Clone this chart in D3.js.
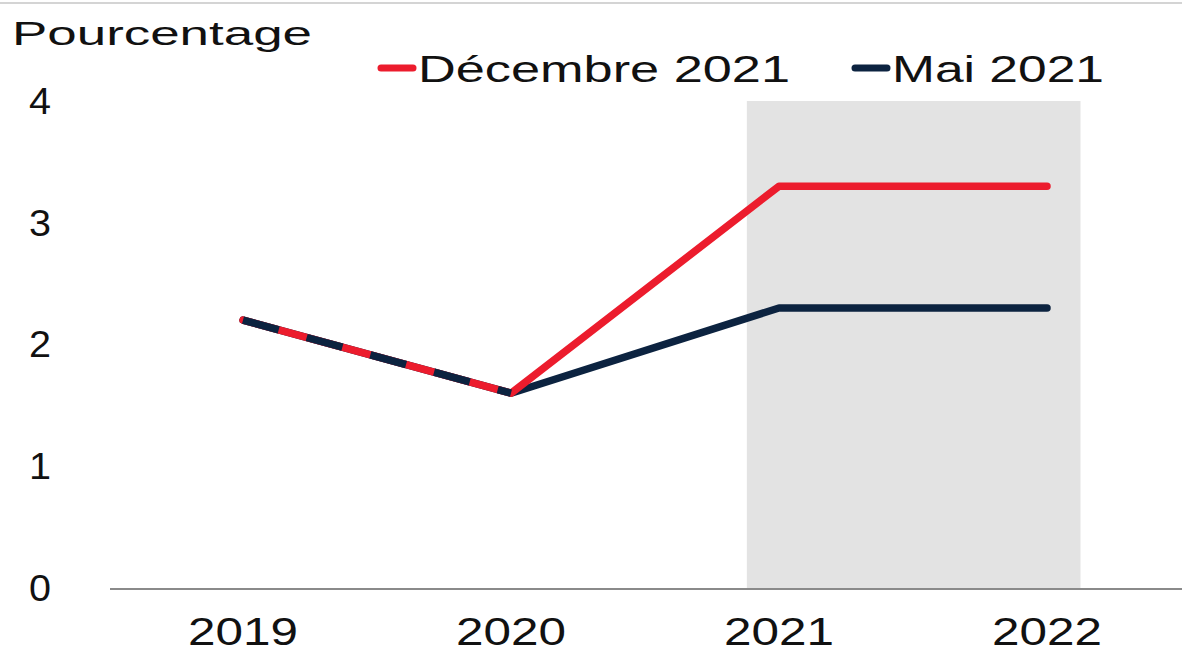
<!DOCTYPE html>
<html>
<head>
<meta charset="utf-8">
<script src="https://cdn.jsdelivr.net/npm/d3@7"></script>
<style>
  body { margin: 0; background: #fff; }
  text { font-family: "Liberation Sans", Arial, sans-serif; fill: #111; }
</style>
</head>
<body>
<div id="chart"></div>
<script>
// data
const years = ["2019", "2020", "2021", "2022"];
const dec2021 = [2.2, 1.6, 3.3, 3.3];
const mai2021 = [2.2, 1.6, 2.3, 2.3];
const yTicks = [0, 1, 2, 3, 4];
const shaded = ["2021", "2022"];

const W = 1182, H = 653;
const red = "#ec1c2d", navy = "#0c2340";

const svg = d3.select("#chart").append("svg")
    .attr("width", W)
    .attr("height", H);

const xScale = d3.scalePoint().domain(years).range([243, 1047]);
const step = xScale.step();
const yScale = d3.scaleLinear().domain([0, 4]).range([588, 101]);

// top rule
svg.append("line")
    .attr("x1", 0).attr("x2", W).attr("y1", 3).attr("y2", 3)
    .attr("stroke", "#d4d4d4").attr("stroke-width", 2);

// forecast shading
svg.append("rect")
    .attr("x", xScale(shaded[0]) - 0.12 * step)
    .attr("y", yScale(4))
    .attr("width", xScale(shaded[1]) - xScale(shaded[0]) + 0.245 * step)
    .attr("height", yScale(0) - yScale(4))
    .attr("fill", "#e3e3e3");

// axis line
svg.append("line")
    .attr("x1", 110).attr("x2", W).attr("y1", yScale(0) + 1).attr("y2", yScale(0) + 1)
    .attr("stroke", "#8a8a8a").attr("stroke-width", 2);

// y tick labels
svg.selectAll(".ytick")
    .data(yTicks)
    .join("text")
    .attr("class", "ytick")
    .attr("x", 40)
    .attr("y", d => yScale(d))
    .attr("dy", "0.36em")
    .attr("text-anchor", "middle")
    .attr("font-size", 36)
    .attr("textLength", 22)
    .attr("lengthAdjust", "spacingAndGlyphs")
    .text(d => d);

// x tick labels
svg.selectAll(".xtick")
    .data(years)
    .join("text")
    .attr("class", "xtick")
    .attr("x", d => xScale(d))
    .attr("y", 645)
    .attr("text-anchor", "middle")
    .attr("font-size", 38)
    .attr("textLength", 110)
    .attr("lengthAdjust", "spacingAndGlyphs")
    .text(d => d);

// lines
const line = d3.line()
    .x((d, i) => xScale(years[i]))
    .y(d => yScale(d));

svg.append("path")
    .attr("d", line(mai2021))
    .attr("fill", "none")
    .attr("stroke", navy)
    .attr("stroke-width", 7.5)
    .attr("stroke-linejoin", "round")
    .attr("stroke-linecap", "round");

svg.append("path")
    .attr("d", line(dec2021))
    .attr("fill", "none")
    .attr("stroke", red)
    .attr("stroke-width", 7.5)
    .attr("stroke-linejoin", "round")
    .attr("stroke-linecap", "round");

// overlap segment 2019-2020: navy dashes over red
svg.append("path")
    .attr("d", line(mai2021.slice(0, 2)))
    .attr("fill", "none")
    .attr("stroke", navy)
    .attr("stroke-width", 7.5)
    .attr("stroke-linecap", "butt")
    .attr("stroke-dasharray", "37 29");

// y label
svg.append("text")
    .attr("x", 12)
    .attr("y", 45)
    .attr("font-size", 33)
    .attr("textLength", 300)
    .attr("lengthAdjust", "spacingAndGlyphs")
    .text("Pourcentage");

// legend
const legend = [
    { name: "Décembre 2021", color: red, x: 378, tw: 372 },
    { name: "Mai 2021", color: navy, x: 852, tw: 212 }
];
const lg = svg.selectAll(".legend")
    .data(legend)
    .join("g")
    .attr("class", "legend")
    .attr("transform", d => `translate(${d.x},68)`);
lg.append("line")
    .attr("x1", 3).attr("x2", 35)
    .attr("stroke", d => d.color)
    .attr("stroke-width", 7)
    .attr("stroke-linecap", "round");
lg.append("text")
    .attr("x", 40)
    .attr("y", 14)
    .attr("font-size", 36)
    .attr("textLength", d => d.tw)
    .attr("lengthAdjust", "spacingAndGlyphs")
    .text(d => d.name);
</script>
</body>
</html>
